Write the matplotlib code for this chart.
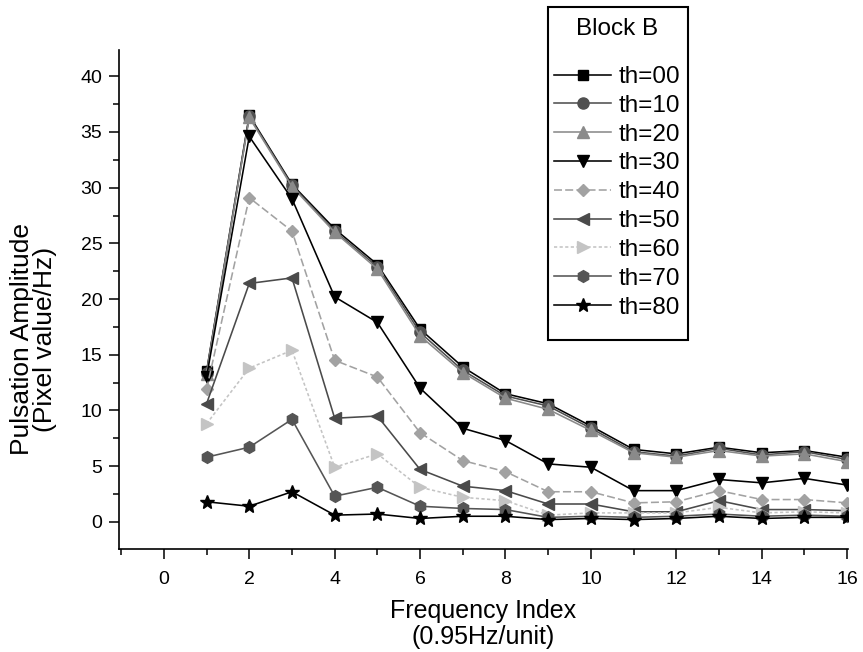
import matplotlib
matplotlib.use("Agg")
import matplotlib.pyplot as plt
from matplotlib.patches import Rectangle
from matplotlib.ticker import MultipleLocator

plt.rcParams['font.family'] = ['Liberation Sans', 'DejaVu Sans']

# Frequency index (0.95 Hz per unit)
freq_index = list(range(1, 17))

# Pulsation amplitude per threshold (pixel value / Hz)
th00 = [13.5, 36.5, 30.3, 26.3, 23.1, 17.3, 13.9, 11.5, 10.6, 8.6, 6.5, 6.1, 6.7, 6.2, 6.4, 5.8]
th10 = [13.4, 36.4, 30.2, 26.1, 22.9, 17.0, 13.6, 11.3, 10.4, 8.4, 6.3, 5.9, 6.6, 6.0, 6.3, 5.6]
th20 = [13.3, 36.3, 30.1, 26.0, 22.7, 16.7, 13.4, 11.1, 10.1, 8.2, 6.2, 5.8, 6.4, 5.9, 6.1, 5.4]
th30 = [13.0, 34.6, 29.0, 20.2, 17.9, 12.0, 8.4, 7.3, 5.2, 4.9, 2.8, 2.8, 3.8, 3.5, 3.9, 3.3]
th40 = [11.9, 29.1, 26.1, 14.5, 13.0, 8.0, 5.5, 4.5, 2.7, 2.7, 1.7, 1.8, 2.8, 2.0, 2.0, 1.7]
th50 = [10.6, 21.4, 21.9, 9.3, 9.5, 4.7, 3.2, 2.8, 1.6, 1.6, 0.9, 0.9, 1.9, 1.1, 1.1, 1.0]
th60 = [8.8, 13.8, 15.4, 4.9, 6.1, 3.1, 2.2, 1.9, 0.6, 0.8, 0.8, 0.8, 1.3, 0.8, 0.9, 0.8]
th70 = [5.8, 6.7, 9.2, 2.3, 3.1, 1.4, 1.2, 1.1, 0.4, 0.5, 0.4, 0.5, 0.7, 0.5, 0.6, 0.5]
th80 = [1.8, 1.4, 2.7, 0.6, 0.7, 0.3, 0.5, 0.5, 0.2, 0.3, 0.2, 0.3, 0.5, 0.3, 0.4, 0.4]

series_labels = ["th=00", "th=10", "th=20", "th=30", "th=40",
                 "th=50", "th=60", "th=70", "th=80"]
series_values = [th00, th10, th20, th30, th40, th50, th60, th70, th80]

styles = [
    dict(color="#000000", marker="s", ls="-", ms=7.5),
    dict(color="#505050", marker="o", ls="-", ms=8),
    dict(color="#8a8a8a", marker="^", ls="-", ms=8.5),
    dict(color="#000000", marker="v", ls="-", ms=9),
    dict(color="#a2a2a2", marker="D", ls=(0, (5, 2)), ms=6.5),
    dict(color="#4a4a4a", marker="<", ls="-", ms=9),
    dict(color="#c4c4c4", marker=">", ls=(0, (2, 1.5)), ms=9),
    dict(color="#555555", marker="h", ls="-", ms=8.5),
    dict(color="#000000", marker="*", ls="-", ms=10),
]

fig = plt.figure(figsize=(8.63, 6.52), dpi=100)
W, H = 863, 652
ax = fig.add_axes([119 / W, 1 - 549 / H, (848 - 119) / W, (549 - 50) / H])

handles = []
for vals, lab, st in zip(series_values, series_labels, styles):
    ln, = ax.plot(freq_index, vals, color=st["color"], marker=st["marker"],
                  linestyle=st["ls"], markersize=st["ms"], linewidth=1.15,
                  markeredgecolor=st["color"], markerfacecolor=st["color"],
                  label=lab)
    handles.append(ln)

ax.set_xlim(-1.05, 16.02)
ax.set_ylim(-2.44, 42.36)
ax.xaxis.set_major_locator(MultipleLocator(2))
ax.xaxis.set_minor_locator(MultipleLocator(1))
ax.yaxis.set_major_locator(MultipleLocator(5))
ax.yaxis.set_minor_locator(MultipleLocator(2.5))

for side in ("top", "right"):
    ax.spines[side].set_visible(False)
for side in ("left", "bottom"):
    ax.spines[side].set_linewidth(1.2)

ax.tick_params(which="major", direction="out", length=7, width=1.1,
               labelsize=14, pad=5)
ax.tick_params(which="minor", direction="out", length=4.5, width=1.1)
ax.tick_params(axis="x", which="major", pad=9)

ax.set_xlabel("Frequency Index\n(0.95Hz/unit)", fontsize=18,
              linespacing=1.1, va="center")
ax.xaxis.set_label_coords(0.5, -0.15)
ax.set_ylabel("Pulsation Amplitude\n(Pixel value/Hz)", fontsize=19,
              linespacing=0.95, va="center")
ax.yaxis.set_label_coords(-0.117, 0.42)

# Legend with its own frame and heading
fig.add_artist(Rectangle((548 / W, 1 - 340 / H), 140 / W, 333 / H,
                         transform=fig.transFigure, fill=False,
                         edgecolor="black", linewidth=1.5))
fig.text(617 / W, 1 - 29 / H, "Block B", ha="center", va="center",
         fontsize=17.5)
fig.legend(handles=handles, labels=series_labels, loc="upper left",
           bbox_to_anchor=(554 / W, 1 - 66 / H), bbox_transform=fig.transFigure,
           frameon=False, fontsize=17.5, handlelength=2.35, handletextpad=0.3,
           labelspacing=0.28, borderpad=0, borderaxespad=0)

fig.savefig("out.png", dpi=100)
